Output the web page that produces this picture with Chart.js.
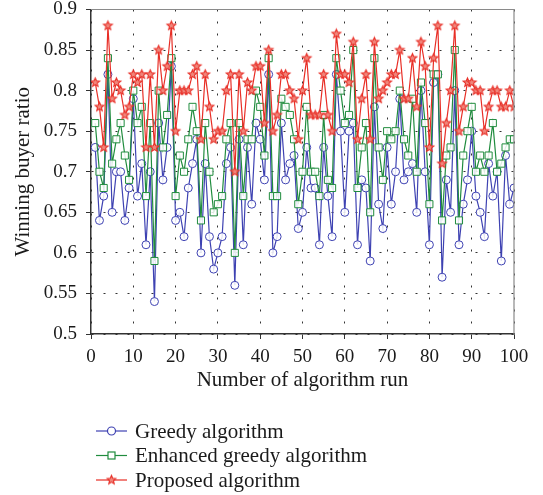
<!DOCTYPE html>
<html>
<head>
<meta charset="utf-8">
<script src="https://cdn.jsdelivr.net/npm/chart.js@4.4.0/dist/chart.umd.min.js"></script>
<style>
  html, body { margin: 0; padding: 0; background: #fff; }
  #wrap { width: 543px; height: 495px; }
</style>
</head>
<body>
<div id="wrap"><canvas id="chart" width="543" height="495"></canvas></div>
<script>
// CHART DATA
const runs = [1,2,3,4,5,6,7,8,9,10,11,12,13,14,15,16,17,18,19,20,
  21,22,23,24,25,26,27,28,29,30,31,32,33,34,35,36,37,38,39,40,
  41,42,43,44,45,46,47,48,49,50,51,52,53,54,55,56,57,58,59,60,
  61,62,63,64,65,66,67,68,69,70,71,72,73,74,75,76,77,78,79,80,
  81,82,83,84,85,86,87,88,89,90,91,92,93,94,95,96,97,98,99,100];

const greedy = [0.73,0.64,0.67,0.82,0.65,0.70,0.70,0.64,0.68,0.79,
  0.67,0.71,0.61,0.70,0.54,0.76,0.69,0.73,0.83,0.64,
  0.65,0.62,0.68,0.71,0.74,0.60,0.71,0.62,0.58,0.60,
  0.62,0.71,0.73,0.56,0.74,0.61,0.73,0.66,0.76,0.74,
  0.69,0.82,0.60,0.62,0.76,0.69,0.71,0.72,0.63,0.65,
  0.73,0.68,0.68,0.61,0.73,0.67,0.62,0.82,0.75,0.65,
  0.75,0.76,0.61,0.69,0.68,0.59,0.78,0.66,0.63,0.73,
  0.66,0.70,0.79,0.69,0.70,0.71,0.65,0.80,0.70,0.61,
  0.81,0.82,0.57,0.69,0.65,0.80,0.61,0.66,0.69,0.75,
  0.67,0.65,0.62,0.71,0.67,0.70,0.59,0.72,0.66,0.68];

const enhanced = [0.76,0.70,0.68,0.84,0.71,0.74,0.76,0.72,0.69,0.80,
  0.76,0.78,0.67,0.76,0.59,0.80,0.73,0.77,0.84,0.67,
  0.72,0.70,0.74,0.78,0.75,0.64,0.76,0.70,0.65,0.66,
  0.67,0.74,0.76,0.60,0.76,0.67,0.74,0.74,0.80,0.78,
  0.72,0.84,0.67,0.67,0.79,0.78,0.77,0.74,0.66,0.70,
  0.78,0.70,0.70,0.67,0.77,0.69,0.68,0.84,0.80,0.76,
  0.77,0.85,0.68,0.73,0.76,0.65,0.84,0.73,0.69,0.75,
  0.74,0.75,0.80,0.74,0.72,0.79,0.70,0.81,0.76,0.66,
  0.82,0.82,0.64,0.72,0.73,0.85,0.64,0.72,0.75,0.78,
  0.70,0.72,0.70,0.72,0.76,0.70,0.71,0.73,0.74,0.74];

const proposed = [0.81,0.78,0.73,0.88,0.79,0.81,0.80,0.77,0.78,0.82,
  0.81,0.82,0.73,0.82,0.73,0.85,0.80,0.83,0.88,0.75,
  0.80,0.80,0.80,0.82,0.83,0.74,0.82,0.78,0.74,0.75,
  0.75,0.80,0.82,0.70,0.82,0.75,0.81,0.80,0.83,0.83,
  0.76,0.85,0.75,0.77,0.82,0.82,0.80,0.79,0.74,0.80,
  0.84,0.77,0.77,0.77,0.82,0.77,0.75,0.87,0.82,0.82,
  0.81,0.86,0.74,0.79,0.82,0.74,0.86,0.79,0.80,0.81,
  0.82,0.82,0.85,0.79,0.79,0.84,0.78,0.86,0.83,0.73,
  0.84,0.88,0.71,0.76,0.80,0.88,0.75,0.78,0.81,0.81,
  0.80,0.80,0.75,0.78,0.80,0.80,0.78,0.78,0.80,0.78];

const xTicks = [0,10,20,30,40,50,60,70,80,90,100];
const yTicks = [0.5,0.55,0.6,0.65,0.7,0.75,0.8,0.85,0.9];

const seriesNames = ['Greedy algorithm', 'Enhanced greedy algorithm', 'Proposed algorithm'];

// STYLES
const BLUE = 'rgb(62,66,178)';
const GREEN = 'rgb(32,140,62)';
const RED = 'rgb(232,46,38)';
const FONT = "'Liberation Serif', 'Times New Roman', serif";

Chart.defaults.font.family = FONT;
Chart.defaults.color = '#1a1a1a';

function makeStar(color, r) {
  const c = document.createElement('canvas');
  const s = Math.ceil(r * 2 + 3);
  c.width = s; c.height = s;
  const g = c.getContext('2d');
  g.beginPath();
  for (let k = 0; k < 10; k++) {
    const rad = k % 2 ? r * 0.45 : r;
    const a = -Math.PI / 2 + k * Math.PI / 5;
    g.lineTo(s / 2 + rad * Math.cos(a), s / 2 + rad * Math.sin(a));
  }
  g.closePath();
  g.fillStyle = '#f0877c';
  g.fill();
  g.strokeStyle = color;
  g.lineWidth = 1.1;
  g.stroke();
  return c;
}
const starImg = makeStar(RED, 4.6);

function toPoints(values) {
  return values.map((v, i) => ({ x: runs[i], y: v }));
}

// legend drawn under the plot: line + marker + text
const bottomLegend = {
  id: 'bottomLegend',
  afterDraw(chart) {
    const ctx = chart.ctx;
    const rows = [431, 455.5, 480];
    ctx.save();
    chart.data.datasets.forEach((ds, i) => {
      const y = rows[i];
      ctx.strokeStyle = ds.borderColor;
      ctx.lineWidth = 1.2;
      ctx.beginPath();
      ctx.moveTo(96, y);
      ctx.lineTo(127, y);
      ctx.stroke();
      const mx = 111.5;
      if (i === 0) {
        ctx.beginPath();
        ctx.arc(mx, y, 4, 0, Math.PI * 2);
        ctx.fillStyle = '#fff';
        ctx.fill();
        ctx.stroke();
      } else if (i === 1) {
        ctx.fillStyle = '#fff';
        ctx.fillRect(mx - 3.5, y - 3.5, 7, 7);
        ctx.strokeRect(mx - 3.5, y - 3.5, 7, 7);
      } else {
        ctx.drawImage(starImg, mx - starImg.width / 2, y - starImg.height / 2);
      }
      ctx.fillStyle = '#1a1a1a';
      ctx.font = '21px ' + FONT;
      ctx.textBaseline = 'middle';
      ctx.fillText(ds.label, 135, y + 1);
    });
    ctx.restore();
  }
};

// top and right edges of the plot box
const plotBox = {
  id: 'plotBox',
  afterDatasetsDraw(chart) {
    const { ctx, chartArea: a } = chart;
    ctx.save();
    ctx.strokeStyle = '#8a8a8a';
    ctx.lineWidth = 1.2;
    ctx.beginPath();
    ctx.moveTo(a.left, a.top);
    ctx.lineTo(a.right, a.top);
    ctx.lineTo(a.right, a.bottom);
    ctx.stroke();
    ctx.restore();
  }
};

new Chart(document.getElementById('chart'), {
  type: 'line',
  data: {
    datasets: [
      {
        label: seriesNames[0],
        data: toPoints(greedy),
        borderColor: BLUE,
        borderWidth: 1.2,
        pointStyle: 'circle',
        pointRadius: 4,
        pointBorderWidth: 1,
        pointBackgroundColor: 'rgba(255,255,255,0.85)',
        pointBorderColor: BLUE,
        order: 2
      },
      {
        label: seriesNames[1],
        data: toPoints(enhanced),
        borderColor: GREEN,
        borderWidth: 1.2,
        pointStyle: 'rect',
        pointRadius: 5,
        pointBorderWidth: 1,
        pointBackgroundColor: 'rgba(255,255,255,0.85)',
        pointBorderColor: GREEN,
        order: 1
      },
      {
        label: seriesNames[2],
        data: toPoints(proposed),
        borderColor: RED,
        borderWidth: 1.2,
        pointStyle: starImg,
        order: 0
      }
    ]
  },
  options: {
    responsive: false,
    animation: false,
    layout: { padding: { left: 0, right: 29, top: 9.5, bottom: 102 } },
    plugins: {
      legend: { display: false },
      tooltip: { enabled: false }
    },
    scales: {
      x: {
        type: 'linear',
        min: 0,
        max: 100,
        afterBuildTicks: s => { s.ticks = xTicks.map(v => ({ value: v })); },
        afterFit: s => { s.height = 59; s.paddingLeft = 0; s.paddingRight = 0; },
        ticks: { font: { size: 19 }, padding: 7, maxRotation: 0, color: '#1a1a1a' },
        grid: { color: '#333', lineWidth: 1, tickLength: 5, tickColor: '#333' },
        border: { color: '#333', width: 1.5, dash: [2, 10] },
        title: {
          display: true,
          text: 'Number of algorithm run',
          font: { size: 21 },
          padding: { top: 0, bottom: 0 },
          color: '#1a1a1a'
        }
      },
      y: {
        type: 'linear',
        min: 0.5,
        max: 0.9,
        afterBuildTicks: s => { s.ticks = yTicks.map(v => ({ value: v })); },
        afterFit: s => { s.width = 91; s.paddingTop = 0; s.paddingBottom = 0; },
        ticks: { font: { size: 19 }, padding: 9, color: '#1a1a1a', callback: v => String(v) },
        grid: { color: '#333', lineWidth: 1, tickLength: 5, tickColor: '#333' },
        border: { color: '#333', width: 1.5, dash: [2, 10] },
        title: {
          display: true,
          text: 'Winning buyer ratio',
          font: { size: 21 },
          padding: { top: 11, bottom: 0 },
          color: '#1a1a1a'
        }
      }
    }
  },
  plugins: [plotBox, bottomLegend]
});
</script>
</body>
</html>
